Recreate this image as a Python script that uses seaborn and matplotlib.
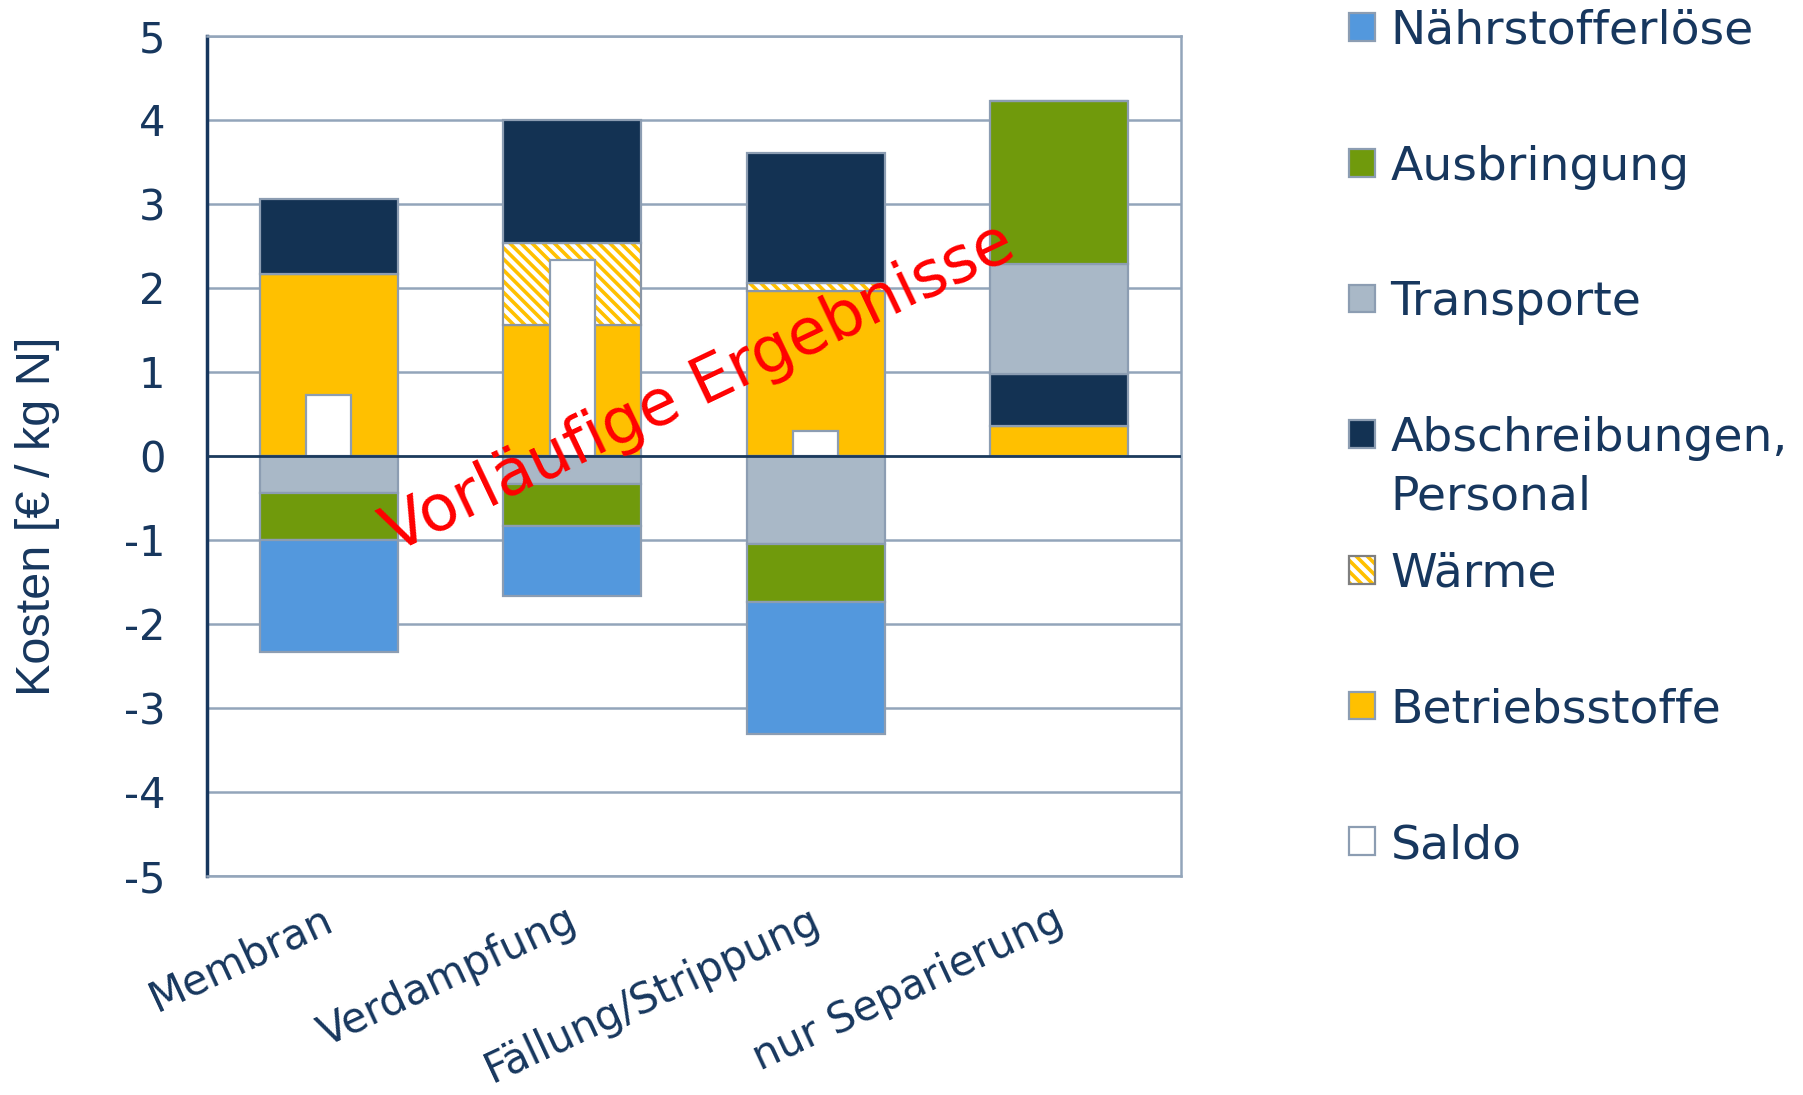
import numpy as np
import pandas as pd
import matplotlib
matplotlib.use("Agg")
import matplotlib.pyplot as plt
import matplotlib.transforms as mtransforms
from matplotlib.patches import Patch
from matplotlib.legend_handler import HandlerTuple
import seaborn as sns

# Categories and cost components [€ / kg N]
verfahren = ["Membran", "Verdampfung", "Fällung/Strippung", "nur Separierung"]
betriebsstoffe = [2.16, 1.56, 1.96, 0.36]
waerme = [0.00, 0.97, 0.10, 0.00]
abschreibungen = [0.90, 1.46, 1.54, 0.61]
transporte = [-0.44, -0.33, -1.05, 1.31]
ausbringung = [-0.56, -0.50, -0.69, 1.94]
naehrstofferloese = [-1.34, -0.84, -1.57, 0.00]
saldo = [0.72, 2.33, 0.29, np.nan]
y_ticks = [5, 4, 3, 2, 1, 0, -1, -2, -3, -4, -5]

NAVY_TXT = "#17375E"
EDGE = "#8C9DB2"
GRID = "#93A5BA"
colors = {
    "Nährstofferlöse": "#5398DD",
    "Ausbringung": "#709A0C",
    "Transporte": "#A9B8C7",
    "Abschreibungen": "#133253",
    "Wärme": "#FFC000",
    "Betriebsstoffe": "#FFC000",
    "Saldo": "#FFFFFF",
}
HATCH = "\\" * 3

sns.set_theme(style="white")
plt.rcParams["font.family"] = ["DejaVu Sans"]
plt.rcParams["hatch.linewidth"] = 2.6

fig = plt.figure(figsize=(18.03, 10.95), dpi=100)
ax = fig.add_axes([207 / 1803, 1 - 876 / 1095, 974 / 1803, (876 - 35.6) / 1095])

# stacking order: positive and negative parts are stacked separately
layers = [
    ("Betriebsstoffe", betriebsstoffe),
    ("Wärme", waerme),
    ("Abschreibungen", abschreibungen),
    ("Transporte", transporte),
    ("Ausbringung", ausbringung),
    ("Nährstofferlöse", naehrstofferloese),
]
BAR_W = 0.567
pos_base = np.zeros(len(verfahren))
neg_base = np.zeros(len(verfahren))
for name, vals in layers:
    vals = np.asarray(vals, dtype=float)
    bottom = np.where(vals >= 0, pos_base, neg_base)
    df = pd.DataFrame({"Verfahren": verfahren, "Wert": vals})
    if name == "Wärme":
        sns.barplot(data=df, x="Verfahren", y="Wert", bottom=bottom, width=BAR_W,
                    color="white", saturation=1, edgecolor=colors[name], hatch=HATCH,
                    linewidth=0, ax=ax, zorder=3)
        sns.barplot(data=df, x="Verfahren", y="Wert", bottom=bottom, width=BAR_W,
                    color="#8A96A6", fill=False, linewidth=1.6, ax=ax, zorder=3)
    else:
        sns.barplot(data=df, x="Verfahren", y="Wert", bottom=bottom, width=BAR_W,
                    color=colors[name], saturation=1, edgecolor=EDGE,
                    linewidth=1.6, ax=ax, zorder=3)
    pos_base += np.where(vals >= 0, vals, 0)
    neg_base += np.where(vals < 0, vals, 0)

df_s = pd.DataFrame({"Verfahren": verfahren, "Wert": saldo})
sns.barplot(data=df_s, x="Verfahren", y="Wert", width=0.185, color="white",
            saturation=1, edgecolor=EDGE, linewidth=1.6, ax=ax, zorder=4)

ax.set_xlim(-0.5, 3.5)
ax.set_ylim(-5, 5)
ax.set_yticks(y_ticks)
ax.set_yticklabels([str(t) for t in y_ticks])
for t in y_ticks:
    if t != 0:
        ax.axhline(t, color=GRID, lw=1.8, zorder=1)
ax.axhline(0, color="#1B3A5C", lw=2, zorder=5)

for side in ["top", "right", "bottom"]:
    ax.spines[side].set_color(GRID)
    ax.spines[side].set_linewidth(1.8)
ax.spines["left"].set_color("#17375E")
ax.spines["left"].set_linewidth(2.5)

ax.tick_params(axis="both", length=0, labelcolor=NAVY_TXT)
ax.tick_params(axis="y", pad=30, labelsize=30)
ax.tick_params(axis="x", pad=16, labelsize=30)
ax.set_xticks(range(len(verfahren)))
ax.set_xticklabels(verfahren, rotation=25, ha="right", rotation_mode="anchor")
shift = mtransforms.ScaledTranslation(-7 / 100, 0, fig.dpi_scale_trans)
for lab in ax.get_xticklabels():
    lab.set_transform(lab.get_transform() + shift)
ax.set_xlabel("")
ax.set_ylabel("Kosten [€ / kg N]", color=NAVY_TXT, fontsize=35,
              family=["Liberation Sans"])
ax.yaxis.set_label_coords(-0.151, 0.428)

# watermark
ax.text(1.52, 0.8, "Vorläufige Ergebnisse", color="red", fontsize=46,
        rotation=25.5, ha="center", va="center", zorder=6)

# legend
legend_order = ["Nährstofferlöse", "Ausbringung", "Transporte", "Abschreibungen",
                "Wärme", "Betriebsstoffe", "Saldo"]
legend_labels = ["Nährstofferlöse", "Ausbringung", "Transporte", "Abschreibungen,",
                 "Wärme", "Betriebsstoffe", "Saldo"]
handles = []
for name in legend_order:
    if name == "Wärme":
        handles.append((Patch(facecolor="white", edgecolor=colors[name], hatch=HATCH, linewidth=0),
                        Patch(fill=False, edgecolor="#7F7F7F", linewidth=1.6)))
    else:
        handles.append(Patch(facecolor=colors[name], edgecolor=EDGE, linewidth=1.6))
leg = fig.legend(handles, legend_labels, loc="upper left",
                 bbox_to_anchor=(1349 / 1803, 1 - 9 / 1095),
                 frameon=False, fontsize=34, labelcolor=NAVY_TXT,
                 handlelength=0.55, handleheight=0.52, handletextpad=0.33,
                 labelspacing=1.92, borderpad=0, borderaxespad=0,
                 handler_map={tuple: HandlerTuple(ndivide=1, pad=0)})
abs_txt = leg.get_texts()[3]
fig.canvas.draw()
ax.annotate("Personal", xy=(0, 1), xycoords=abs_txt, xytext=(0, -59),
            textcoords="offset pixels", ha="left", va="top",
            fontsize=34, color=NAVY_TXT, annotation_clip=False)

fig.savefig("out.png", dpi=100, facecolor="white")
